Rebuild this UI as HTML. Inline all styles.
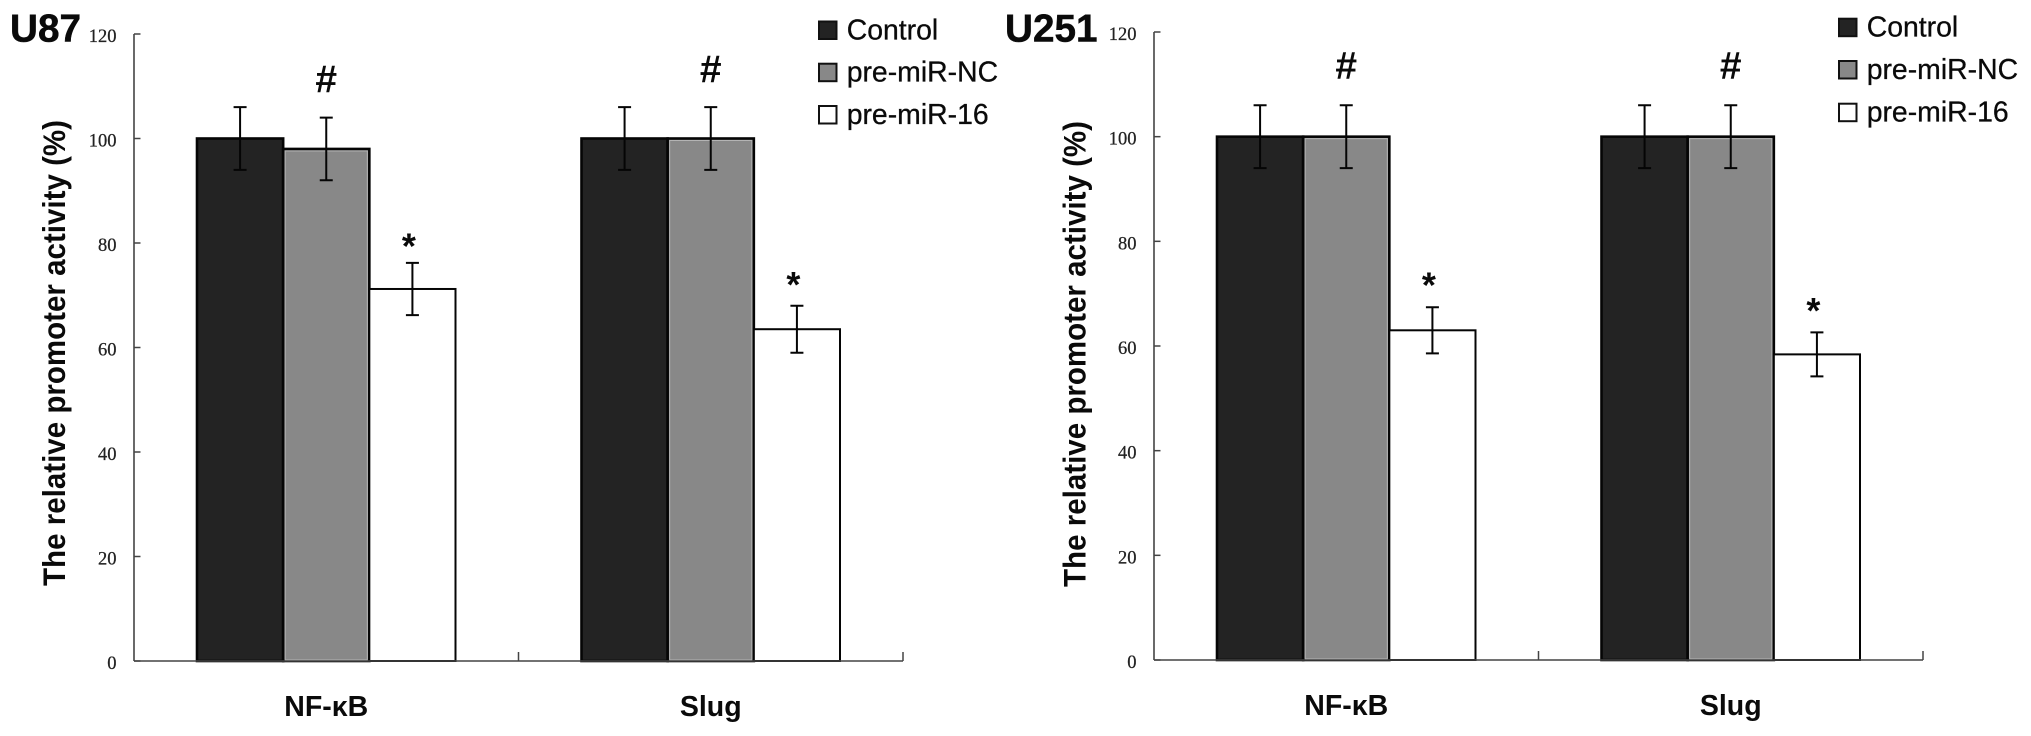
<!DOCTYPE html>
<html lang="en">
<head>
<meta charset="utf-8">
<title>Relative promoter activity in U87 and U251</title>
<style>
  html, body { margin: 0; padding: 0; background: #fff; }
  svg { display: block; }
  text { font-family: "Liberation Sans", sans-serif; fill: #0a0a0a; }
  .tick-label { font-family: "Liberation Serif", serif; font-size: 18.5px; text-anchor: end; fill: #222; stroke: #222; stroke-width: 0.25px; }
  .panel-title { font-size: 38.7px; font-weight: 700; stroke: #0a0a0a; stroke-width: 0.5px; }
  .axis-title { font-size: 31.5px; font-weight: 700; }
  .category-label { font-size: 28.5px; font-weight: 700; text-anchor: middle; }
  .legend-label { font-size: 28.4px; stroke: #0a0a0a; stroke-width: 0.3px; }
  .hash { font-size: 39px; font-weight: 700; text-anchor: middle; }
  .star { font-size: 36px; font-weight: 700; text-anchor: middle; }
</style>
</head>
<body>
<svg id="figure" xmlns="http://www.w3.org/2000/svg" width="2031" height="736" viewBox="0 0 2031 736"></svg>
<script>
// ---- Chart data ----
const categories = ['NF-κB', 'Slug'];
const seriesNames = ['Control', 'pre-miR-NC', 'pre-miR-16'];
const tickValues = [0, 20, 40, 60, 80, 100, 120];

const u87Control = [100, 100];
const u87PreMirNc = [98, 100];
const u87PreMir16 = [71.2, 63.5];
const u87ControlErr = [6, 6];
const u87PreMirNcErr = [6, 6];
const u87PreMir16Err = [5, 4.5];

const u251Control = [100, 100];
const u251PreMirNc = [100, 100];
const u251PreMir16 = [63, 58.4];
const u251ControlErr = [6, 6];
const u251PreMirNcErr = [6, 6];
const u251PreMir16Err = [4.4, 4.2];

const hashMarks = ['#', '#'];
const starMarks = ['*', '*'];

// ---- Layout (not data) ----
const NS = 'http://www.w3.org/2000/svg';
const svg = document.getElementById('figure');
const fills = ['#232323', '#888888', '#ffffff'];
const AXIS_MAX = 120;

const panels = [
  { id: 'u87', title: 'U87', titleX: 10, titleY: 41.5,
    x0: 134, x1: 903, yBottom: 661, yTop: 34,
    values: [u87Control, u87PreMirNc, u87PreMir16],
    errors: [u87ControlErr, u87PreMirNcErr, u87PreMir16Err],
    axisTitleX: 65, axisTitleY: 586,
    hashY: [92.5, 82.5], starGap: [4.5, 8.7], catY: 716,
    legendSwatchX: 818, legendTextX: 846.7, legendBase: [39.5, 81.7, 124] },
  { id: 'u251', title: 'U251', titleX: 1005, titleY: 41.5,
    x0: 1154, x1: 1923, yBottom: 660, yTop: 32,
    values: [u251Control, u251PreMirNc, u251PreMir16],
    errors: [u251ControlErr, u251PreMirNcErr, u251PreMir16Err],
    axisTitleX: 1085.5, axisTitleY: 587,
    hashY: [79, 79], starGap: [9.8, 9.4], catY: 715,
    legendSwatchX: 1838, legendTextX: 1866.7, legendBase: [36.7, 79, 121.7] }
];

function make(tag, attrs, text) {
  const el = document.createElementNS(NS, tag);
  for (const k in attrs) el.setAttribute(k, attrs[k]);
  if (text !== undefined) el.textContent = text;
  return el;
}

function yScale(p, v) {
  return p.yBottom - (v / AXIS_MAX) * (p.yBottom - p.yTop);
}
function bandWidth(p) {
  return (p.x1 - p.x0) / categories.length;
}
function barWidth(p) {
  return (bandWidth(p) - 2 * 63) / seriesNames.length;
}
function barLeft(p, cat, ser) {
  return p.x0 + bandWidth(p) * cat + 63 + barWidth(p) * ser;
}

panels.forEach(function (p) {
  const group = make('g', {});
  
  
  svg.appendChild(group);

  // Panel title
  const title = make('text', { class: 'panel-title', x: p.titleX, y: p.titleY }, p.title);
  
  
  group.appendChild(title);

  // Bars
  seriesNames.forEach(function (name, s) {
    categories.forEach(function (cat, c) {
      const x = barLeft(p, c, s);
      const w = barWidth(p);
      const y = yScale(p, p.values[s][c]);
      const h = p.yBottom - y;
      const bar = make('rect', { x: x, y: y, width: w, height: h, fill: fills[s], stroke: '#050505', 'stroke-width': s === 2 ? 2 : 2.6 });
      
      
      group.appendChild(bar);
      if (s === 1) {
        const edge = make('rect', { x: x + 2, y: y + 2, width: w - 4, height: h - 3, fill: 'none', stroke: '#b4b4b4', 'stroke-width': 1 });
        
        
        group.appendChild(edge);
      }
    });
  });

  // Error bars
  seriesNames.forEach(function (name, s) {
    categories.forEach(function (cat, c) {
      const cx = barLeft(p, c, s) + barWidth(p) / 2;
      const v = p.values[s][c];
      const e = p.errors[s][c];
      const yHi = yScale(p, v + e);
      const yLo = yScale(p, v - e);
      const d = 'M' + cx + ' ' + yHi + 'V' + yLo + 'M' + (cx - 6.5) + ' ' + yHi + 'H' + (cx + 6.5) + 'M' + (cx - 6.5) + ' ' + yLo + 'H' + (cx + 6.5);
      const err = make('path', { d: d, fill: 'none', stroke: '#050505', 'stroke-width': 2 });
      
      
      group.appendChild(err);
    });
  });

  // Axes
  const yAxis = make('line', { x1: p.x0, x2: p.x0, y1: p.yTop, y2: p.yBottom, stroke: '#444', 'stroke-width': 1.6 });
  
  
  group.appendChild(yAxis);

  const xAxis = make('line', { x1: p.x0, x2: p.x1, y1: p.yBottom, y2: p.yBottom, stroke: '#444', 'stroke-width': 1.6 });
  
  
  group.appendChild(xAxis);

  tickValues.forEach(function (t) {
    const y = yScale(p, t);
    const tick = make('line', { x1: p.x0, x2: p.x0 + 6.5, y1: y, y2: y, stroke: '#444', 'stroke-width': 1.5 });
    
    
    group.appendChild(tick);

    const label = make('text', { class: 'tick-label', x: p.x0 - 17.5, y: y + 8 }, String(t));
    
    
    group.appendChild(label);
  });

  categories.forEach(function (cat, c) {
    const tx = p.x0 + bandWidth(p) * (c + 1);
    const tick = make('line', { x1: tx, x2: tx, y1: p.yBottom, y2: p.yBottom - 9, stroke: '#444', 'stroke-width': 1.5 });
    
    
    group.appendChild(tick);

    const label = make('text', { class: 'category-label', x: p.x0 + bandWidth(p) * (c + 0.5), y: p.catY }, cat);
    
    
    group.appendChild(label);

    // Significance marks
    const hash = make('text', { class: 'hash', x: barLeft(p, c, 1) + barWidth(p) / 2, y: p.hashY[c] }, hashMarks[c]);
    
    
    group.appendChild(hash);

    const top = yScale(p, p.values[2][c] + p.errors[2][c]);
    const star = make('text', { class: 'star', x: barLeft(p, c, 2) + barWidth(p) / 2 - 3.5, y: top - p.starGap[c] }, starMarks[c]);
    
    
    group.appendChild(star);
  });

  // Y axis title
  const yTitle = make('text', {
    class: 'axis-title',
    transform: 'translate(' + p.axisTitleX + ',' + p.axisTitleY + ') rotate(-90)',
    textLength: 466,
    lengthAdjust: 'spacingAndGlyphs'
  }, 'The relative promoter activity (%)');
  
  
  group.appendChild(yTitle);

  // Legend
  seriesNames.forEach(function (name, s) {
    const base = p.legendBase[s];
    const swatch = make('rect', { x: p.legendSwatchX + 1, y: base - 18, width: 17.5, height: 17.5, fill: fills[s], stroke: '#111', 'stroke-width': 2 });
    
    
    group.appendChild(swatch);

    const text = make('text', { class: 'legend-label', x: p.legendTextX, y: base }, name);
    
    
    group.appendChild(text);
  });
});
</script>
</body>
</html>
